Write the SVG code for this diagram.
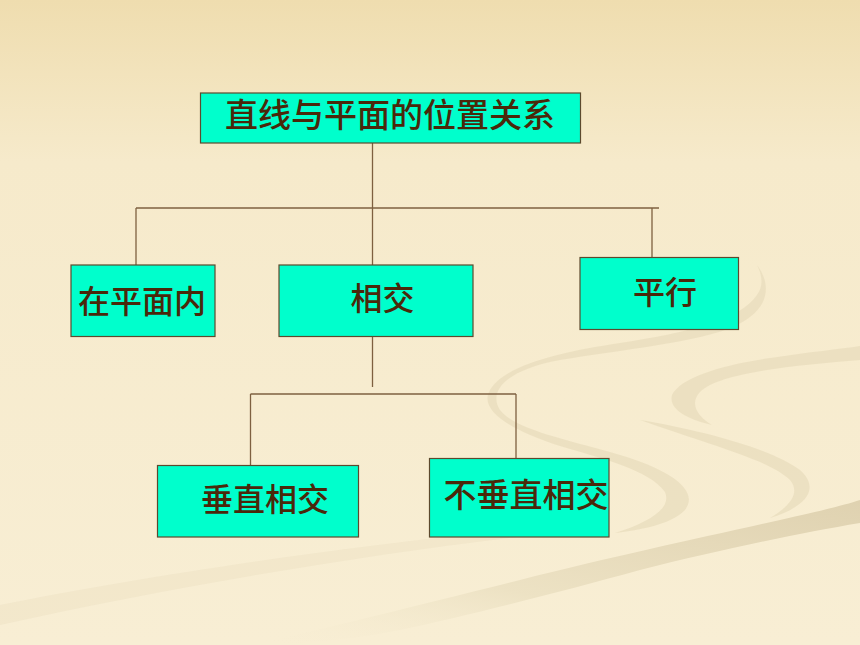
<svg xmlns="http://www.w3.org/2000/svg" width="860" height="645" viewBox="0 0 860 645">
<defs>
<linearGradient id="bg" x1="0" y1="0" x2="0" y2="1">
<stop offset="0" stop-color="#EFDDAF"/>
<stop offset="0.25" stop-color="#F6EACB"/>
<stop offset="1" stop-color="#F8EED4"/>
</linearGradient>
<linearGradient id="sw3" x1="1" y1="0" x2="0" y2="1">
<stop offset="0" stop-color="#D9CBA8"/>
<stop offset="0.6" stop-color="#EADFC0"/>
<stop offset="1" stop-color="#F8EED4" stop-opacity="0"/>
</linearGradient>
<style>
.box{fill:#00FFCC;stroke:#5C4A2E;stroke-width:1.2}
.lbl{font-family:"Noto Sans CJK SC","Noto Sans CJK TC",sans-serif;font-size:32px;font-weight:500;fill:#4A280A;text-anchor:middle}
.conn{stroke:#7E6040;stroke-width:1.3;fill:none}
.sw{fill:#E8DCBC;opacity:0.75}
</style>
</defs>
<rect width="860" height="645" fill="url(#bg)"/>
<g id="background-swooshes">
<path class="sw" d="M757,265 C772,285 770,310 735,326 C700,342 620,350 560,360 C505,370 488,392 500,410 C515,430 570,440 620,455 C670,470 700,490 685,510 C670,525 640,530 615,533 C650,522 672,508 665,492 C650,470 600,458 560,446 C510,430 478,410 490,390 C505,365 560,352 620,343 C690,332 740,320 757,295 C764,285 762,275 757,265 Z"/>
<path class="sw" d="M860,346 L860,360 C800,365 720,372 700,392 C688,405 700,418 712,425 C690,420 668,410 672,395 C680,378 720,365 770,358 C810,352 840,349 860,346 Z"/>
<path class="sw" d="M640,420 C700,430 770,448 800,470 C818,486 812,505 770,518 C792,505 800,492 790,480 C770,460 710,445 640,420 Z"/>
<path fill="url(#sw3)" opacity="0.8" d="M860,500 L860,523 C800,533 720,550 640,570 C560,592 470,615 400,630 C340,642 280,645 250,645 C320,630 420,605 520,580 C620,555 700,538 780,520 C820,511 845,505 860,500 Z"/>
<path fill="#EDE2C4" opacity="0.5" d="M0,605 C150,575 350,545 545,527 L560,532 C380,552 180,585 0,625 Z"/>
</g>
<g id="connectors">
<line class="conn" x1="372.5" y1="143" x2="372.5" y2="265"/>
<line class="conn" x1="136" y1="208" x2="659" y2="208"/>
<line class="conn" x1="136" y1="208" x2="136" y2="265"/>
<line class="conn" x1="652" y1="208" x2="652" y2="258"/>
<line class="conn" x1="372.5" y1="336.5" x2="372.5" y2="387"/>
<line class="conn" x1="250.5" y1="394" x2="516" y2="394"/>
<line class="conn" x1="250.5" y1="394" x2="250.5" y2="465.5"/>
<line class="conn" x1="516" y1="394" x2="516" y2="458.5"/>
</g>
<g id="node-root">
<rect class="box" x="200.5" y="93" width="380" height="50"/>
<text class="lbl" x="390" y="127" style="font-size:33px">直线与平面的位置关系</text>
</g>
<g id="node-in-plane">
<rect class="box" x="71" y="265" width="144" height="71.5"/>
<text class="lbl" x="142" y="313">在平面内</text>
</g>
<g id="node-intersect">
<rect class="box" x="279" y="265" width="194" height="71.5"/>
<text class="lbl" x="382.5" y="310">相交</text>
</g>
<g id="node-parallel">
<rect class="box" x="580" y="257.5" width="158.5" height="72"/>
<text class="lbl" x="665" y="303.5">平行</text>
</g>
<g id="node-perpendicular">
<rect class="box" x="157.5" y="465.5" width="201" height="71.5"/>
<text class="lbl" x="265" y="511">垂直相交</text>
</g>
<g id="node-oblique">
<rect class="box" x="429.5" y="458.5" width="179.5" height="78.5"/>
<text class="lbl" x="526" y="506.5" style="font-size:33px">不垂直相交</text>
</g>
</svg>
